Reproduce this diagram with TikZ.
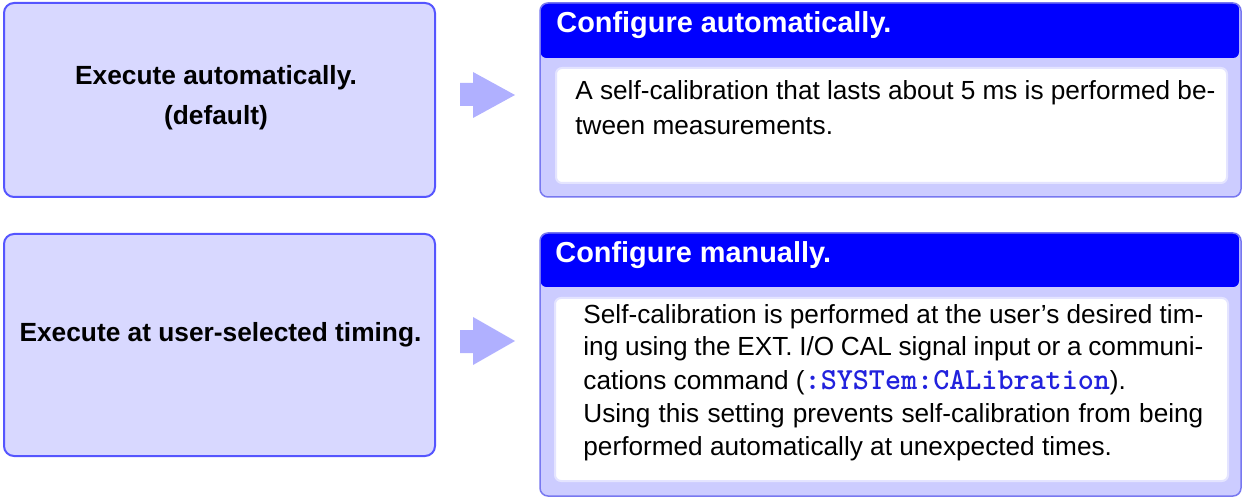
\documentclass[tikz,border=0pt]{standalone}
\usepackage{fontspec}
\setmainfont{Liberation Sans}
\definecolor{leftfill}{HTML}{D8D8FF}
\definecolor{leftdraw}{HTML}{5555FF}
\definecolor{outerfill}{HTML}{CCCCFF}
\definecolor{outerdraw}{HTML}{7878F0}
\definecolor{headfill}{HTML}{0000FF}
\definecolor{innerdraw}{HTML}{E4E4FF}
\definecolor{arrowfill}{HTML}{B0B0FF}
\definecolor{cmdblue}{HTML}{2222DD}
\tikzset{
  leftbox/.style={fill=leftfill, draw=leftdraw, line width=1pt, rounded corners=5pt},
  outerbox/.style={fill=outerfill, rounded corners=4pt},
  outerline/.style={draw=outerdraw, line width=0.75pt, rounded corners=4pt},
  headbox/.style={fill=headfill, rounded corners=3pt},
  innerbox/.style={fill=white, draw=innerdraw, line width=1pt, rounded corners=3pt},
  blockarrow/.style={fill=arrowfill},
  lefttext/.style={inner sep=0pt, anchor=base, font=\fontsize{13.15pt}{20pt}\selectfont\bfseries},
  headtext/.style={inner sep=0pt, anchor=base west, text=white, font=\fontsize{14.45pt}{17pt}\selectfont\bfseries},
  bodytext/.style={inner sep=0pt, anchor=base west, font=\fontsize{13.1pt}{17pt}\selectfont},
}
\newcommand{\cmdtext}[1]{\textcolor{cmdblue}{\fontsize{15.3pt}{17pt}\ttfamily\bfseries #1}}
\begin{document}
\begin{tikzpicture}[x=0.5pt, y=-0.5pt]
\useasboundingbox (0,0) rectangle (1242,497);

% left boxes
\draw[leftbox] (4,3) rectangle (435,197);
\draw[leftbox] (4,234) rectangle (435,456);
\node[lefttext] (l1a) at (216,85) {Execute automatically.};
\node[lefttext] (l1b) at (216,125) {(default)};
\node[lefttext] (l2a) at (220.5,342) {Execute at user-selected timing.};

% block arrows
\fill[blockarrow] (460,83) -- (473,83) -- (473,72) -- (515,95) -- (473,118) -- (473,106) -- (460,106) -- cycle;
\fill[blockarrow] (460,330) -- (473,330) -- (473,317) -- (515,341) -- (473,365) -- (473,353) -- (460,353) -- cycle;

% right box 1
\fill[outerbox] (540,3) rectangle (1241,197);
\fill[headbox] (540.5,3) rectangle (1239,58);
\draw[outerline] (540,3) rectangle (1241,197);
\draw[innerbox] (556,68) rectangle (1227,183);
\node[headtext] (h1) at (556,33) {Configure automatically.};
\node[bodytext] (b1a) at (575,100) {\makebox[320pt][s]{A self-calibration that lasts about 5 ms is performed be-}};
\node[bodytext] (b1b) at (575,135) {tween measurements.};

% right box 2
\fill[outerbox] (540,233) rectangle (1241,496);
\fill[headbox] (540.5,233) rectangle (1239,287);
\draw[outerline] (540,233) rectangle (1241,496);
\draw[innerbox] (555,298) rectangle (1228,481);
\node[headtext] (h2) at (555,263) {Configure manually.};
\node[bodytext] (b2a) at (583,323) {\makebox[310pt][s]{Self-calibration is performed at the user’s desired tim-}};
\node[bodytext] (b2b) at (583,356) {\makebox[310pt][s]{ing using the EXT. I/O CAL signal input or a communi-}};
\node[bodytext] (b2c) at (583,389) {cations command (\cmdtext{:SYSTem:CALibration}).};
\node[bodytext] (b2d) at (583,422) {\makebox[310pt][s]{Using this setting prevents self-calibration from being}};
\node[bodytext] (b2e) at (583,455) {performed automatically at unexpected times.};
\end{tikzpicture}
\end{document}
